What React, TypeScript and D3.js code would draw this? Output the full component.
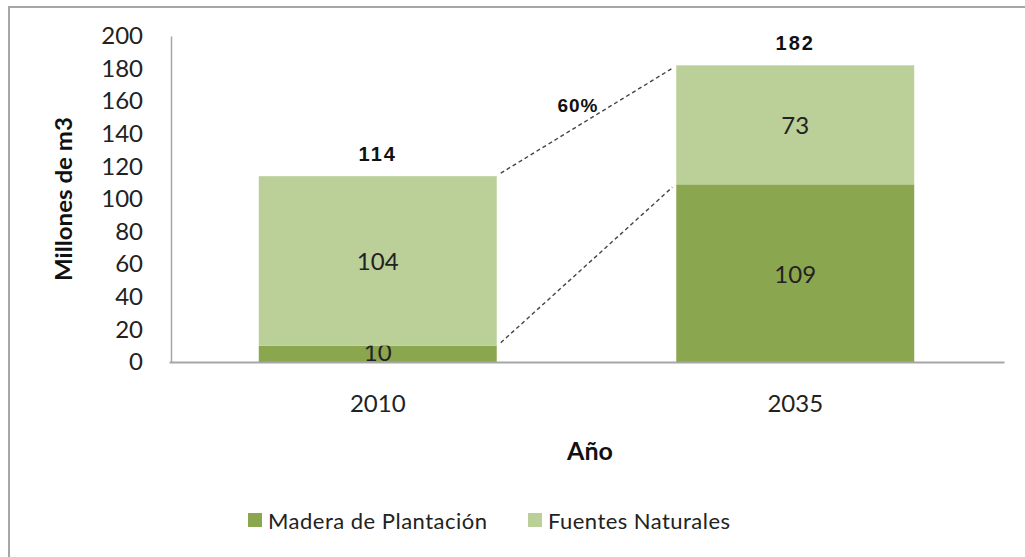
import React, { useEffect, useRef } from 'react';
import * as d3 from 'd3';

const years = ['2010', '2035'];
const plantacion = [10, 109];
const naturales = [104, 73];
const totals = [114, 182];
const growthLabel = '60%';
const yTicks = [0, 20, 40, 60, 80, 100, 120, 140, 160, 180, 200];
const seriesNames = ['Madera de Plantación', 'Fuentes Naturales'];

const W = 1025;
const H = 557;
const DARK = '#8aa64f';
const LIGHT = '#bbcf98';
const FONT = "Lato, 'Open Sans', sans-serif";
const BOLD_FONT = "'Liberation Sans', Arial, sans-serif";

export default function App() {
  const svgRef = useRef<SVGSVGElement>(null);

  useEffect(() => {
    if (!svgRef.current) return;
    const svg = d3.select(svgRef.current);
    svg.selectAll('*').remove();

    const margin = { top: 36, right: 21, bottom: 195, left: 169 };

    // outer frame
    svg.append('rect')
      .attr('x', 9).attr('y', 7)
      .attr('width', W + 10).attr('height', H + 10)
      .attr('fill', 'white')
      .attr('stroke', '#a6a6a6')
      .attr('stroke-width', 2);

    const x = d3.scaleBand()
      .domain(years)
      .range([margin.left, W - margin.right])
      .paddingInner(0.43)
      .paddingOuter(0.215);

    const y = d3.scaleLinear()
      .domain([0, 200])
      .range([H - margin.bottom, margin.top]);

    const data = years.map((yr, i) => ({
      year: yr,
      plantacion: plantacion[i],
      naturales: naturales[i],
      total: totals[i],
    }));

    const stack = d3.stack<any>().keys(['plantacion', 'naturales'])(data);
    const colors = [DARK, LIGHT];

    stack.forEach((layer, li) => {
      svg.append('g')
        .selectAll('rect')
        .data(layer)
        .enter()
        .append('rect')
        .attr('x', d => x(d.data.year)!)
        .attr('y', d => y(d[1]))
        .attr('width', x.bandwidth())
        .attr('height', d => y(d[0]) - y(d[1]))
        .attr('fill', colors[li]);

      // segment values (small segments sit on the baseline)
      svg.append('g')
        .selectAll('text')
        .data(layer)
        .enter()
        .append('text')
        .attr('x', d => x(d.data.year)! + x.bandwidth() / 2)
        .attr('y', d => (d[1] - d[0]) < 15 ? y(d[0]) - 1 : y((d[0] + d[1]) / 2) + 9.5)
        .attr('text-anchor', 'middle')
        .style('font-family', FONT)
        .style('font-size', '24px')
        .style('fill', '#222')
        .text(d => String(d[1] - d[0]));
    });

    // totals
    svg.append('g')
      .selectAll('text')
      .data(data)
      .enter()
      .append('text')
      .attr('x', d => x(d.year)! + x.bandwidth() / 2)
      .attr('y', d => y(d.total) - 15.5)
      .attr('text-anchor', 'middle')
      .style('font-family', BOLD_FONT)
      .style('font-weight', 'bold')
      .style('font-size', '20px')
      .style('letter-spacing', '2px')
      .style('fill', '#111')
      .text(d => String(d.total));

    // dashed connectors
    const x0 = x(years[0])! + x.bandwidth() + 4;
    const x1 = x(years[1])! - 4;
    const connectors = [
      [totals[0], totals[1]],
      [plantacion[0], plantacion[1]],
    ];
    svg.append('g')
      .selectAll('line')
      .data(connectors)
      .enter()
      .append('line')
      .attr('x1', x0)
      .attr('y1', d => y(d[0]) - 3)
      .attr('x2', x1)
      .attr('y2', d => y(d[1]) + 3)
      .attr('stroke', '#444')
      .attr('stroke-width', 1.4)
      .attr('stroke-dasharray', '4,3');

    svg.append('text')
      .attr('x', 578)
      .attr('y', 112)
      .attr('text-anchor', 'middle')
      .style('font-family', BOLD_FONT)
      .style('font-weight', 'bold')
      .style('font-size', '19px')
      .style('letter-spacing', '1px')
      .style('fill', '#111')
      .text(growthLabel);

    // axes
    const yAxis = svg.append('g')
      .attr('transform', `translate(${margin.left + 2},0)`)
      .call(d3.axisLeft(y).tickValues(yTicks).tickSize(0).tickPadding(28));
    yAxis.select('.domain').attr('stroke', '#a6a6a6').attr('stroke-width', 1.5);
    yAxis.selectAll('text')
      .style('font-family', FONT)
      .style('font-size', '24px')
      .style('fill', '#222');

    const xAxis = svg.append('g')
      .attr('transform', `translate(0,${H - margin.bottom})`)
      .call(d3.axisBottom(x).tickSize(0).tickPadding(33));
    xAxis.select('.domain').attr('stroke', '#a6a6a6').attr('stroke-width', 2);
    xAxis.selectAll('text')
      .style('font-family', FONT)
      .style('font-size', '24px')
      .style('fill', '#222');

    // axis titles
    svg.append('text')
      .attr('transform', `translate(72,${y(100)}) rotate(-90)`)
      .attr('text-anchor', 'middle')
      .attr('textLength', 164)
      .attr('lengthAdjust', 'spacingAndGlyphs')
      .style('font-family', FONT)
      .style('font-weight', 'bold')
      .style('font-size', '23px')
      .style('fill', '#111')
      .text('Millones de m3');

    svg.append('text')
      .attr('x', 590)
      .attr('y', 460)
      .attr('text-anchor', 'middle')
      .style('font-family', FONT)
      .style('font-weight', 'bold')
      .style('font-size', '25px')
      .style('fill', '#111')
      .text('Año');

    // legend
    const legendX = [248, 528];
    const legendLen = [219, 182];
    const legend = svg.append('g')
      .selectAll('g')
      .data(seriesNames)
      .enter()
      .append('g')
      .attr('transform', (d, i) => `translate(${legendX[i]},513)`);
    legend.append('rect')
      .attr('x', 0).attr('y', 0)
      .attr('width', 14).attr('height', 14)
      .attr('fill', (d, i) => colors[i]);
    legend.append('text')
      .attr('x', 20)
      .attr('y', 16)
      .attr('textLength', (d, i) => legendLen[i])
      .attr('lengthAdjust', 'spacing')
      .style('font-family', FONT)
      .style('font-size', '22px')
      .style('fill', '#222')
      .text(d => d);
  }, []);

  return (
    <svg
      ref={svgRef}
      width={W}
      height={H}
      style={{ position: 'absolute', left: 0, top: 0, background: 'white' }}
    />
  );
}
